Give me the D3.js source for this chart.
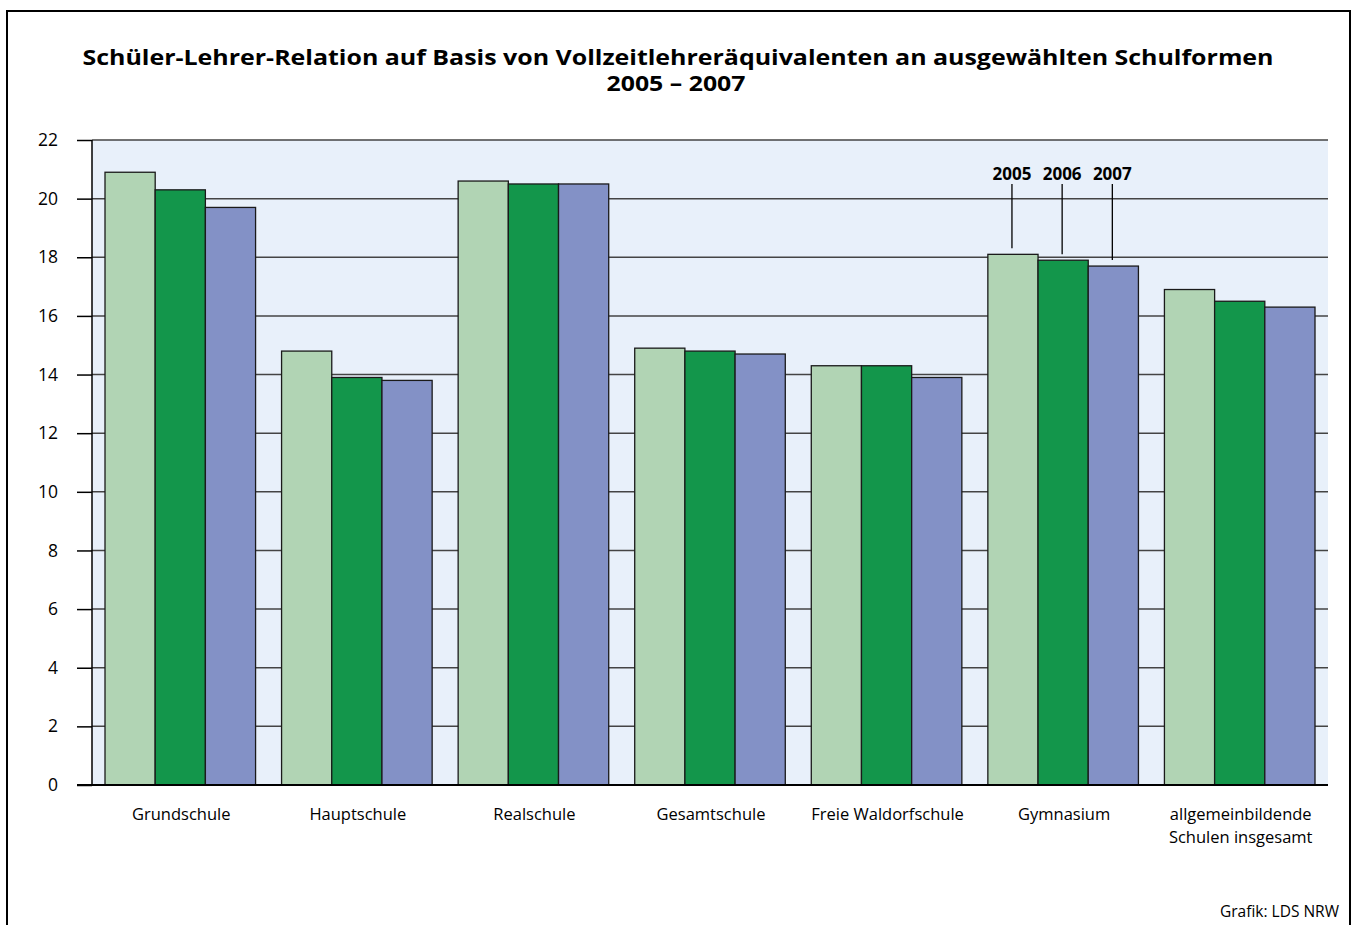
<!DOCTYPE html>
<html><head><meta charset="utf-8">
<script src="https://cdn.jsdelivr.net/npm/d3@7"></script>
<style>body{margin:0;background:#fff}svg{display:block}text{font-family:"Open Sans","Noto Sans",sans-serif}</style>
</head><body>
<svg id="c" width="1358" height="925"></svg>
<script>
const categories = ["Grundschule","Hauptschule","Realschule","Gesamtschule","Freie Waldorfschule","Gymnasium","allgemeinbildende\nSchulen insgesamt"];
const years = ["2005","2006","2007"];
const v2005 = [20.9,14.8,20.6,14.9,14.3,18.1,16.9];
const v2006 = [20.3,13.9,20.5,14.8,14.3,17.9,16.5];
const v2007 = [19.7,13.8,20.5,14.7,13.9,17.7,16.3];
const yTicks = [0,2,4,6,8,10,12,14,16,18,20,22];
const titleLines = ["Schüler-Lehrer-Relation auf Basis von Vollzeitlehreräquivalenten an ausgewählten Schulformen","2005 – 2007"];
const source = "Grafik: LDS NRW";
const labelledCategory = "Gymnasium";

const series = [v2005,v2006,v2007];
const colors = ["#b1d4b4","#13964b","#8391c6"];
const svg = d3.select("#c");
const L=92,R=1328,T=140,B=785;

svg.append("rect").attr("x",7).attr("y",11).attr("width",1343).attr("height",940)
  .attr("fill","none").attr("stroke","#000").attr("stroke-width",2);

svg.append("text").attr("x",678).attr("y",65).attr("text-anchor","middle")
  .attr("font-weight","bold").style("font-size","20.5px")
  .attr("textLength",1191).attr("lengthAdjust","spacingAndGlyphs").text(titleLines[0]);
svg.append("text").attr("x",676).attr("y",91).attr("text-anchor","middle")
  .attr("font-weight","bold").style("font-size","20.5px")
  .attr("textLength",139).attr("lengthAdjust","spacingAndGlyphs").text(titleLines[1]);

const x0 = d3.scaleBand().domain(categories).range([L,R]).paddingInner(0).paddingOuter(0);
const x1 = d3.scaleBand().domain(years).range([13, x0.bandwidth()-13]);
const y = d3.scaleLinear().domain([0,22]).range([B,T]);

svg.append("rect").attr("x",L).attr("y",T).attr("width",R-L).attr("height",B-T).attr("fill","#e8f0fa");

// gridlines
svg.append("g").selectAll("line").data(yTicks.filter(d=>d>0)).join("line")
  .attr("x1",L).attr("x2",R).attr("y1",d=>y(d)).attr("y2",d=>y(d))
  .attr("stroke","#444").attr("stroke-width",1.5);

// bars
const g = svg.append("g").selectAll("g").data(categories).join("g")
  .attr("transform",d=>`translate(${x0(d)},0)`);
g.selectAll("rect").data((d,i)=>years.map((yr,j)=>({yr,v:series[j][i],j}))).join("rect")
  .attr("x",d=>x1(d.yr)).attr("width",x1.bandwidth())
  .attr("y",d=>y(d.v)).attr("height",d=>B-y(d.v))
  .attr("fill",d=>colors[d.j]).attr("stroke","#1a1a1a").attr("stroke-width",1.3);

// y axis
const ax = d3.axisLeft(y).tickValues(yTicks).tickSize(15).tickPadding(19).tickFormat(d3.format("d"));
const ag = svg.append("g").attr("transform",`translate(${L},0)`).call(ax);
ag.attr("font-size",null).attr("font-family",null);
ag.select(".domain").attr("stroke","#000").attr("stroke-width",1.5).attr("d",`M0,${T}V${B}`);
ag.selectAll(".tick line").attr("stroke","#000").attr("stroke-width",1.5);
ag.selectAll(".tick text").style("font-size","17.5px").attr("fill","#000");
svg.append("line").attr("x1",L-15).attr("x2",R).attr("y1",B).attr("y2",B).attr("stroke","#000").attr("stroke-width",1.8);

// category labels
const cl = svg.append("g");
categories.forEach(d=>{
  const cx = x0(d)+x0.bandwidth()/2+1;
  const t = cl.append("text").attr("x",cx).attr("y",820).attr("text-anchor","middle").style("font-size","16.5px");
  d.split("\n").forEach((line,i)=>{
    t.append("tspan").attr("x",cx).attr("dy",i?22.5:0).text(line);
  });
});

// year annotations
const gi = categories.indexOf(labelledCategory);
const ann = svg.append("g");
years.forEach((yr,j)=>{
  const cx = x0(labelledCategory)+x1(yr)+x1.bandwidth()/2-1;
  ann.append("text").attr("x",cx).attr("y",180).attr("text-anchor","middle")
    .attr("font-weight","bold").style("font-size","17px").text(yr);
  ann.append("line").attr("x1",cx).attr("x2",cx).attr("y1",184).attr("y2",y(series[j][gi])-6)
    .attr("stroke","#000").attr("stroke-width",1.3);
});

svg.append("text").attr("x",1339).attr("y",917).attr("text-anchor","end").style("font-size","15.5px").text(source);
</script>
</body></html>
